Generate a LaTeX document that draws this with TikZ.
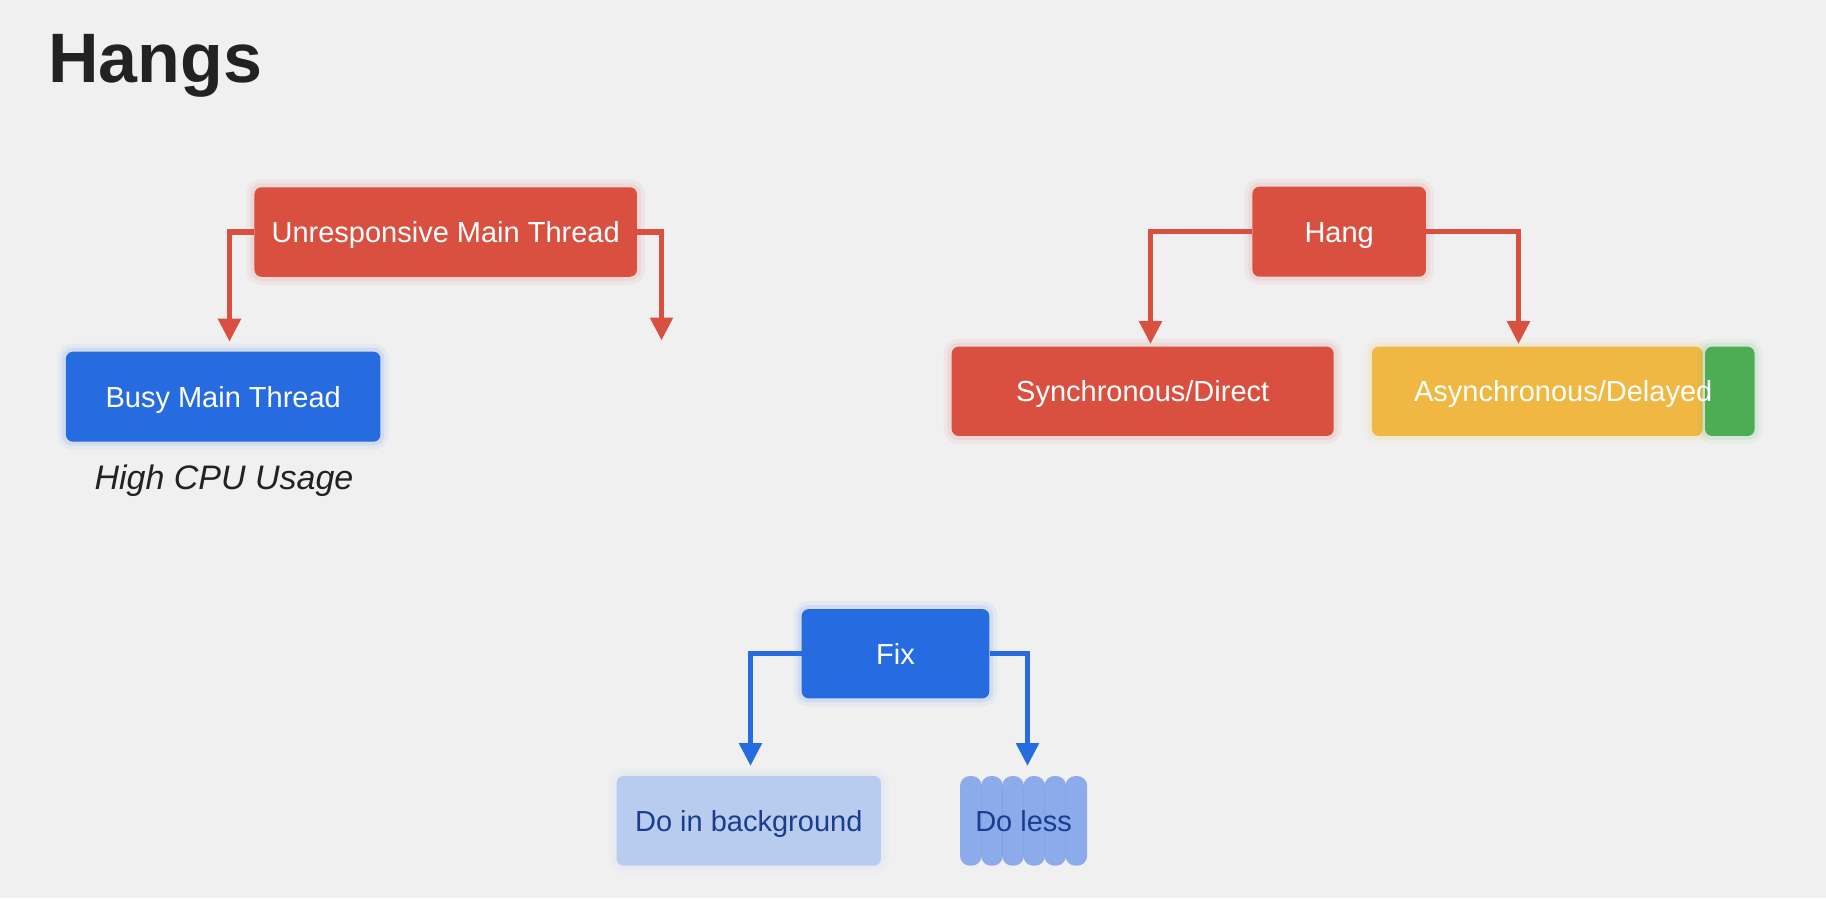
\documentclass[tikz,border=0pt]{standalone}
\usepackage{fontspec}
\setmainfont{Liberation Sans}
\usetikzlibrary{arrows.meta,calc}
\definecolor{bgc}{HTML}{F0F0F1}
\definecolor{redc}{HTML}{DA5040}
\definecolor{bluec}{HTML}{276BE0}
\definecolor{yelc}{HTML}{F0B843}
\definecolor{grnc}{HTML}{4CAD54}
\definecolor{lbluec}{HTML}{B8CCEF}
\definecolor{stripc}{HTML}{7BA0E9}
\definecolor{dtext}{HTML}{1A3D8F}
\definecolor{titlec}{HTML}{222222}
\begin{document}
\begin{tikzpicture}[x=1pt,y=-1pt,
  glow/.style={preaction={draw=#1, draw opacity=0.06, line width=16pt},
               preaction={draw=#1, draw opacity=0.09, line width=8pt}},
  box/.style={rounded corners=7pt, inner sep=0pt, text=white,
    font=\fontsize{29}{34}\selectfont, text height=20.8pt, text depth=0pt},
  connector/.style={line width=5.5pt, -{Triangle[width=22pt,length=23pt]}},
]
\useasboundingbox (0,0) rectangle (1826,898);
\fill[bgc] (0,0) rectangle (1826,898);

% title
\node[anchor=base west, inner sep=0pt, text=titlec,
  font=\fontsize{70}{80}\selectfont\bfseries] (title) at (48,82) {Hangs};

% --- Unresponsive main thread
\node[box, glow=redc, fill=redc, minimum width=382.5pt, minimum height=89.5pt] (umt) at (445.7,232) {Unresponsive Main Thread};
\node[box, glow=bluec, fill=bluec, minimum width=314.5pt, minimum height=90pt] (busy) at (223.2,396.7) {Busy Main Thread};
\node[anchor=base, inner sep=0pt, text=titlec,
  font=\fontsize{34}{40}\selectfont\itshape] (cpu) at (224,489) {High CPU Usage};
\coordinate (umtL) at (229.5,341.7);
\coordinate (umtR) at (661.5,340.5);
\draw[connector, redc] (umt.west) -| (umtL);
\draw[connector, redc] (umt.east) -| (umtR);

% --- Hang
\node[box, glow=redc, fill=redc, minimum width=173.5pt, minimum height=90pt] (hang) at (1339.2,231.7) {Hang};
\node[box, glow=redc, fill=redc, minimum width=382pt, minimum height=89.3pt] (sync) at (1142.7,391.3) {Synchronous/Direct};
\node[box, glow=yelc, fill=yelc, minimum width=330.7pt, minimum height=89.3pt] (async) at (1537.2,391.3) {};
\node[box, glow=grnc, fill=grnc, minimum width=49.5pt, minimum height=89.3pt] (grn) at (1729.8,391.3) {};
\node[box] (asynctext) at ($(async.west)!0.5!(grn.east)$) {Asynchronous/Delayed};
\coordinate (hangL) at (1150.5,344);
\coordinate (hangR) at (1518.5,344);
\draw[connector, redc] (hang.west) -| (hangL);
\draw[connector, redc] (hang.east) -| (hangR);

% --- Fix
\node[box, glow=bluec, fill=bluec, minimum width=187.6pt, minimum height=89.3pt] (fix) at (895.5,653.7) {Fix};
\node[box, glow=lbluec, fill=lbluec, text=dtext, minimum width=264.3pt, minimum height=89.7pt] (bg) at (748.8,820.8) {Do in background};
\foreach \i in {0,...,5}{
  \fill[stripc, fill opacity=0.85, rounded corners=10pt]
    ({960+21.1*\i},776) rectangle ++(21.7,89.7);
}
\node[box, text=dtext, minimum width=127.3pt, minimum height=89.7pt] (less) at (1023.6,820.8) {Do less};
\coordinate (fixL) at (750.5,766);
\coordinate (fixR) at (1027.5,766);
\draw[connector, bluec] (fix.west) -| (fixL);
\draw[connector, bluec] (fix.east) -| (fixR);
\end{tikzpicture}
\end{document}
